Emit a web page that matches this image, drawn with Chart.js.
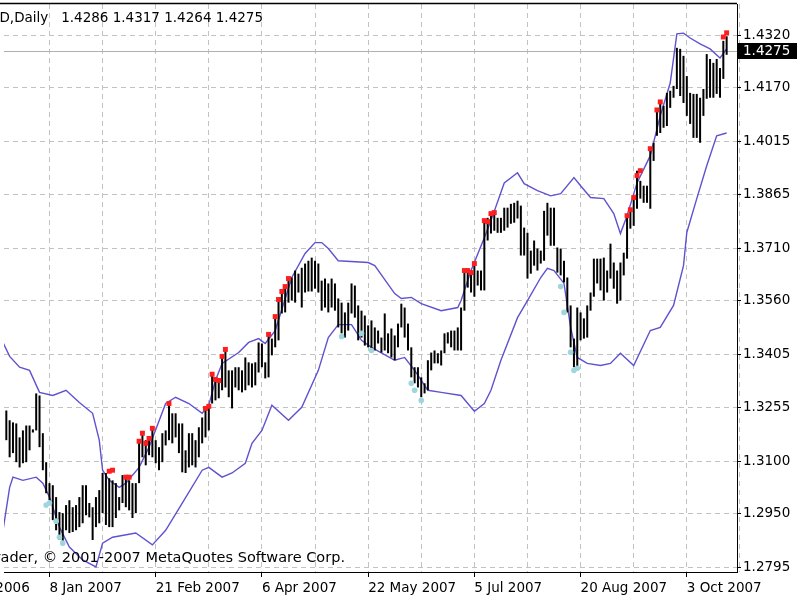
<!DOCTYPE html>
<html><head><meta charset="utf-8">
<script src="https://cdn.jsdelivr.net/npm/chart.js@4.4.1/dist/chart.umd.min.js"></script>
<style>html,body{margin:0;padding:0;background:#fff}canvas{display:block}</style>
</head><body>
<canvas id="c" width="800" height="600"></canvas>
<script>
// ---- data (EURUSD, Daily) ----
const symbol = 'EURUSD';
const timeframe = 'Daily';
const lastOHLC = ['1.4286', '1.4317', '1.4264', '1.4275'];

const highs = [
1.3245,1.3245,1.3217,1.3211,1.3208,1.3168,1.3188,1.3202,1.3202,1.3191,
1.3294,1.3288,1.3180,1.3097,1.3037,1.3031,1.2997,1.2954,1.2951,1.2974,
1.2988,1.2968,1.2974,1.2997,1.3031,1.3031,1.2980,1.2968,1.2997,1.3017,
1.3066,1.3066,1.3051,1.3045,1.3037,1.2997,1.3060,1.3054,1.3045,1.3037,
1.3037,1.3160,1.3182,1.3160,1.3168,1.3194,1.3160,1.3140,1.3180,1.3188,
1.3265,1.3237,1.3237,1.3208,1.3208,1.3131,1.3180,1.3180,1.3160,1.3197,
1.3225,1.3254,1.3257,1.3348,1.3331,1.3331,1.3400,1.3417,1.3360,1.3360,
1.3369,1.3369,1.3360,1.3397,1.3383,1.3380,1.3383,1.3440,1.3437,1.3383,
1.3463,1.3451,1.3514,1.3563,1.3586,1.3600,1.3623,1.3626,1.3646,1.3637,
1.3654,1.3666,1.3674,1.3683,1.3674,1.3666,1.3617,1.3623,1.3609,1.3623,
1.3609,1.3566,1.3554,1.3526,1.3554,1.3609,1.3603,1.3546,1.3531,1.3517,
1.3489,1.3503,1.3483,1.3474,1.3454,1.3523,1.3466,1.3480,1.3460,1.3494,
1.3551,1.3540,1.3494,1.3426,1.3369,1.3369,1.3340,1.3323,1.3389,1.3411,
1.3417,1.3409,1.3417,1.3466,1.3469,1.3474,1.3474,1.3483,1.3540,1.3646,
1.3646,1.3646,1.3666,1.3646,1.3646,1.3789,1.3797,1.3809,1.3817,1.3797,
1.3797,1.3826,1.3826,1.3837,1.3840,1.3846,1.3832,1.3769,1.3754,1.3703,
1.3732,1.3709,1.3703,1.3817,1.3840,1.3826,1.3826,1.3712,1.3709,1.3674,
1.3626,1.3546,1.3451,1.3540,1.3526,1.3509,1.3546,1.3583,1.3680,1.3680,
1.3680,1.3683,1.3646,1.3723,1.3669,1.3646,1.3669,1.3697,1.3800,1.3817,
1.3852,1.3932,1.3903,1.3889,1.3889,1.3995,1.4012,1.4109,1.4126,1.4118,
1.4155,1.4161,1.4175,1.4284,1.4281,1.4261,1.4203,1.4155,1.4152,1.4152,
1.4141,1.4166,1.4266,1.4252,1.4241,1.4252,1.4226,1.4304,1.4317];

const lows = [
1.3145,1.3160,1.3111,1.3123,1.3097,1.3082,1.3094,1.3097,1.3131,1.3182,
1.3188,1.3140,1.3074,1.3008,1.2988,1.2931,1.2902,1.2874,1.2865,1.2902,
1.2894,1.2897,1.2902,1.2911,1.2922,1.2945,1.2939,1.2874,1.2911,1.2922,
1.2951,1.2917,1.2911,1.2911,1.2937,1.2959,1.2980,1.2968,1.2959,1.2937,
1.2951,1.3037,1.3111,1.3088,1.3117,1.3111,1.3094,1.3074,1.3097,1.3145,
1.3160,1.3151,1.3168,1.3123,1.3068,1.3066,1.3082,1.3088,1.3082,1.3111,
1.3151,1.3168,1.3188,1.3265,1.3274,1.3280,1.3303,1.3311,1.3283,1.3251,
1.3311,1.3303,1.3297,1.3303,1.3317,1.3311,1.3317,1.3354,1.3369,1.3337,
1.3340,1.3403,1.3426,1.3446,1.3523,1.3526,1.3554,1.3560,1.3554,1.3583,
1.3540,1.3583,1.3586,1.3586,1.3594,1.3583,1.3531,1.3540,1.3526,1.3540,
1.3531,1.3483,1.3466,1.3454,1.3474,1.3523,1.3511,1.3446,1.3454,1.3431,
1.3426,1.3411,1.3417,1.3437,1.3411,1.3417,1.3409,1.3397,1.3389,1.3426,
1.3483,1.3454,1.3417,1.3340,1.3323,1.3311,1.3283,1.3294,1.3303,1.3360,
1.3380,1.3380,1.3374,1.3409,1.3437,1.3426,1.3417,1.3417,1.3417,1.3531,
1.3597,1.3583,1.3571,1.3603,1.3589,1.3589,1.3732,1.3752,1.3760,1.3754,
1.3754,1.3760,1.3769,1.3780,1.3783,1.3795,1.3689,1.3689,1.3623,1.3637,
1.3660,1.3646,1.3666,1.3674,1.3746,1.3717,1.3717,1.3640,1.3632,1.3612,
1.3526,1.3426,1.3369,1.3366,1.3446,1.3451,1.3454,1.3531,1.3571,1.3609,
1.3589,1.3560,1.3583,1.3623,1.3594,1.3551,1.3560,1.3632,1.3680,1.3766,
1.3774,1.3823,1.3852,1.3840,1.3840,1.3823,1.3960,1.4032,1.4040,1.4055,
1.4060,1.4112,1.4141,1.4166,1.4146,1.4126,1.4089,1.4066,1.4026,1.4026,
1.4012,1.4089,1.4138,1.4141,1.4141,1.4152,1.4141,1.4195,1.4264];

// Bollinger bands, read at bar indices
const upperIdx = [0,2,5,8,11,15,19,23,27,29,30,32,35,37,41,44,49,52,56,60,62,64,66,71,74,77,79,82,87,91,94,96,98,101,110,112,118,120,123,126,132,137,138,141,145,147,151,155,157,161,165,168,172,174,177,181,184,186,188,191,195,198,201,203,205,207,210,213,216,218];
const upperVal = [1.3440,1.3400,1.3369,1.3360,1.3297,1.3288,1.3303,1.3268,1.3237,1.3160,1.3074,1.3045,1.3025,1.3037,1.3082,1.3140,1.3265,1.3283,1.3265,1.3237,1.3260,1.3331,1.3380,1.3411,1.3440,1.3451,1.3437,1.3474,1.3626,1.3695,1.3726,1.3726,1.3709,1.3674,1.3669,1.3660,1.3580,1.3566,1.3569,1.3551,1.3531,1.3540,1.3560,1.3646,1.3740,1.3789,1.3897,1.3926,1.3895,1.3875,1.3860,1.3866,1.3912,1.3889,1.3855,1.3852,1.3809,1.3752,1.3803,1.3897,1.3975,1.4089,1.4183,1.4324,1.4326,1.4312,1.4295,1.4281,1.4255,1.4281];
const lowerIdx = [0,2,3,6,10,12,14,17,20,24,28,30,33,40,45,49,54,60,62,66,69,73,75,78,81,86,90,95,98,101,105,108,111,118,121,124,128,132,138,142,145,147,150,155,158,162,164,166,169,171,173,176,180,183,186,190,195,198,202,205,206,209,212,215,218];
const lowerVal = [1.2902,1.3025,1.3054,1.3045,1.3054,1.3037,1.2997,1.2911,1.2854,1.2817,1.2797,1.2865,1.2882,1.2894,1.2860,1.2902,1.2980,1.3074,1.3082,1.3054,1.3066,1.3094,1.3151,1.3188,1.3260,1.3217,1.3254,1.3360,1.3454,1.3491,1.3491,1.3446,1.3426,1.3389,1.3397,1.3360,1.3303,1.3297,1.3288,1.3243,1.3265,1.3303,1.3389,1.3511,1.3560,1.3626,1.3652,1.3646,1.3609,1.3483,1.3397,1.3380,1.3374,1.3380,1.3409,1.3374,1.3474,1.3483,1.3546,1.3660,1.3755,1.3852,1.3946,1.4032,1.4040];

// band-touch markers
const redIdx = [32,33,37,38,41,42,43,44,45,50,61,62,63,64,65,66,67,80,82,83,84,85,86,139,140,141,142,145,146,147,148,188,189,190,191,192,195,197,198,217,218];
const redVal = [1.3071,1.3074,1.3054,1.3054,1.3157,1.3180,1.3151,1.3165,1.3194,1.3265,1.3251,1.3257,1.3349,1.3334,1.3331,1.3400,1.3420,1.3463,1.3514,1.3563,1.3586,1.3600,1.3623,1.3646,1.3646,1.3640,1.3666,1.3789,1.3786,1.3809,1.3812,1.3803,1.3820,1.3855,1.3918,1.3932,1.3995,1.4106,1.4129,1.4315,1.4327];
const cyanIdx = [13,14,16,17,18,102,108,111,123,124,126,168,169,171,172,173];
const cyanVal = [1.2974,1.2980,1.2928,1.2882,1.2865,1.3457,1.3466,1.3417,1.3323,1.3303,1.3274,1.3600,1.3526,1.3412,1.3360,1.3366];

// axis ticks
const xTickIdx = [-18,14,46,78,110,142,174,206];
const xTickLabels = ['23 Nov 2006','8 Jan 2007','21 Feb 2007','6 Apr 2007','22 May 2007','5 Jul 2007','20 Aug 2007','3 Oct 2007'];
const yTickLabels = ['1.4320','1.4170','1.4015','1.3865','1.3710','1.3560','1.3405','1.3255','1.3100','1.2950','1.2795'];

// ---- chart ----
const FONT = "'DejaVu Sans', sans-serif";
Chart.defaults.font.family = FONT;
Chart.defaults.font.size = 13.5;
Chart.defaults.color = '#000';

const xGridIdx = [];
xTickIdx.forEach(v => { xGridIdx.push(v); xGridIdx.push(v + 16); });

const closeVal = parseFloat(lastOHLC[3]);

const chrome = {
  id: 'chrome',
  beforeDraw(chart) {
    const c = chart.ctx;
    c.save(); c.fillStyle = '#fff'; c.fillRect(0, 0, chart.width, chart.height); c.restore();
  },
  beforeDatasetsDraw(chart) {
    const c = chart.ctx, a = chart.chartArea;
    const y = Math.round(chart.scales.y.getPixelForValue(closeVal)) + 0.5;
    c.save(); c.strokeStyle = '#b0b0b0'; c.lineWidth = 1;
    c.beginPath(); c.moveTo(a.left, y); c.lineTo(a.right, y); c.stroke(); c.restore();
  },
  afterDraw(chart) {
    const c = chart.ctx, a = chart.chartArea;
    c.save();
    // top frame line
    c.strokeStyle = '#000'; c.lineWidth = 1.5;
    c.beginPath(); c.moveTo(0, a.top - 0.5); c.lineTo(a.right, a.top - 0.5); c.stroke();
    // header text
    c.fillStyle = '#000'; c.textBaseline = 'middle'; c.textAlign = 'right';
    c.font = '13.5px ' + FONT;
    c.fillText(symbol + ',' + timeframe + '   ' + lastOHLC.join(' '), 263, 18);
    // copyright
    c.font = '14.5px ' + FONT;
    c.fillText('MetaTrader, \u00A9 2001-2007 MetaQuotes Software Corp.', 345, 558);
    // price box
    c.font = '13.5px ' + FONT;
    const y = Math.round(chart.scales.y.getPixelForValue(closeVal));
    c.fillStyle = '#000'; c.fillRect(a.right + 1, y - 8, 59, 16);
    c.fillStyle = '#fff'; c.textAlign = 'left';
    c.fillText(lastOHLC[3], a.right + 6, y);
    c.restore();
  }
};

new Chart(document.getElementById('c'), {
  type: 'bar',
  data: {
    datasets: [
      { type: 'scatter', data: redIdx.map((x, k) => ({ x, y: redVal[k] })), pointStyle: 'rect', pointRadius: 3.5, backgroundColor: '#ff1e1e', borderWidth: 0, order: 0 },
      { type: 'scatter', data: cyanIdx.map((x, k) => ({ x, y: cyanVal[k] })), pointStyle: 'circle', pointRadius: 2.8, backgroundColor: '#9fd6de', borderWidth: 0, order: 0 },
      { type: 'bar', data: highs.map((h, i) => ({ x: i, y: [lows[i], h] })), backgroundColor: '#000', barThickness: 2, inflateAmount: 0, order: 1 },
      { type: 'line', data: upperIdx.map((x, k) => ({ x, y: upperVal[k] })), borderColor: '#5f52d0', borderWidth: 1.4, pointRadius: 0, fill: false, tension: 0, order: 2 },
      { type: 'line', data: lowerIdx.map((x, k) => ({ x, y: lowerVal[k] })), borderColor: '#5f52d0', borderWidth: 1.4, pointRadius: 0, fill: false, tension: 0, order: 2 }
    ]
  },
  options: {
    responsive: false, animation: false, events: [],
    layout: { padding: { top: 3, left: 0, right: 0, bottom: 0 } },
    plugins: { legend: { display: false }, tooltip: { enabled: false } },
    scales: {
      x: {
        type: 'linear', min: 0.3, max: 221.12, offset: false,
        afterBuildTicks: s => { s.ticks = xGridIdx.map(v => ({ value: v })); },
        afterFit: s => { s.height = 28; s.paddingLeft = 0; s.paddingRight = 0; },
        ticks: {
          autoSkip: false, maxRotation: 0, minRotation: 0, align: 'start', padding: 3,
          callback: v => { const k = xTickIdx.indexOf(v); return k >= 0 ? xTickLabels[k] : ''; }
        },
        grid: {
          offset: false, color: '#c2c2c2', lineWidth: 1, drawTicks: true, tickLength: 5, tickWidth: 1,
          tickColor: c => (c.tick && xTickIdx.includes(c.tick.value)) ? '#000' : 'rgba(0,0,0,0)'
        },
        border: { display: true, color: '#000', width: 1, dash: [5, 4] }
      },
      y: {
        type: 'linear', position: 'right', min: 1.27824, max: 1.44095,
        afterBuildTicks: s => { s.ticks = yTickLabels.map(l => ({ value: parseFloat(l) })); },
        afterFit: s => { s.width = 63; s.paddingTop = 0; s.paddingBottom = 0; },
        ticks: { padding: 2, callback: (v, i) => yTickLabels[i] },
        grid: { color: '#c2c2c2', lineWidth: 1, tickLength: 4, tickColor: '#000' },
        border: { display: true, color: '#000', width: 1, dash: [5, 4] }
      }
    }
  },
  plugins: [chrome]
});
</script>
</body></html>
